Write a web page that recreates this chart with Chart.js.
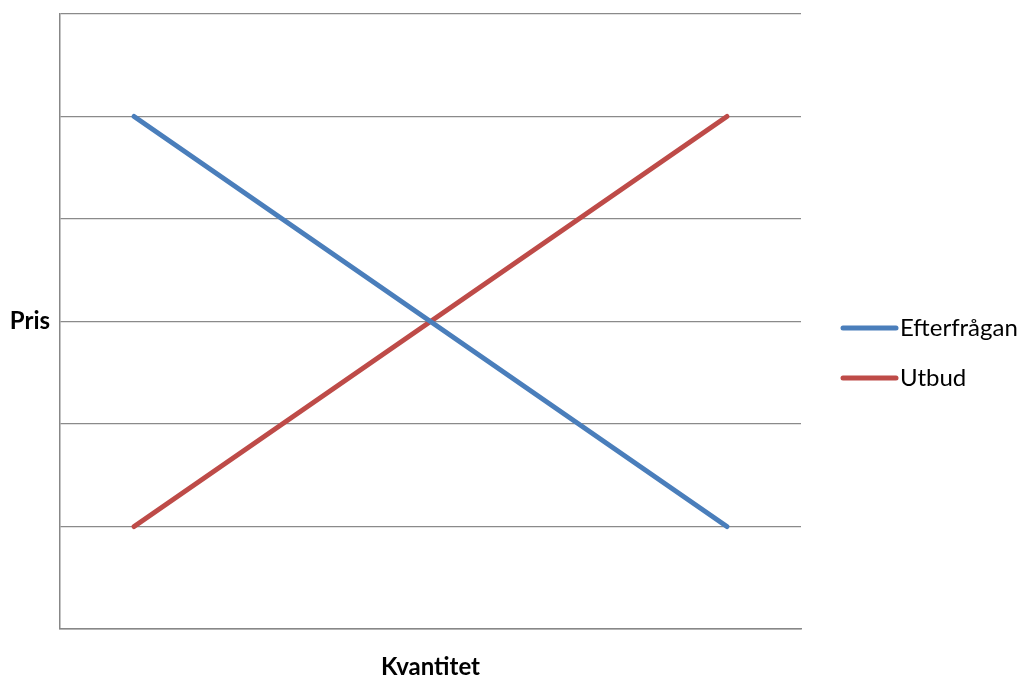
<!DOCTYPE html>
<html lang="sv">
<head>
<meta charset="utf-8">
<title>Efterfrågan och utbud</title>
<script src="https://cdn.jsdelivr.net/npm/chart.js@4/dist/chart.umd.min.js"></script>
<style>
  html, body { margin: 0; padding: 0; background: #ffffff; }
  #wrap { width: 1022px; height: 679px; position: relative; }
</style>
</head>
<body>
<div id="wrap"><canvas id="chart" width="1022" height="679"></canvas></div>
<script>
// Quantity positions on the x axis and the price at each of them
const kvantitet = [1, 9];
const efterfragan = [5, 1];
const utbud = [1, 5];
const seriesLabels = ['Efterfrågan', 'Utbud'];
const axisTitles = { x: 'Kvantitet', y: 'Pris' };

const FONT = 'Lato, "Open Sans", "Liberation Sans", sans-serif';

function points(xs, ys) {
  return xs.map((x, i) => ({ x: x, y: ys[i] }));
}

// Horizontal axis titles and a line-sample legend to the right of the plot
const annotations = {
  id: 'annotations',
  afterDraw(chart) {
    const ctx = chart.ctx;
    const area = chart.chartArea;
    ctx.save();
    ctx.fillStyle = '#000000';
    ctx.font = 'bold 24px ' + FONT;
    ctx.textBaseline = 'middle';
    ctx.textAlign = 'center';
    ctx.fillText(axisTitles.y, 30, (area.top + area.bottom) / 2);
    ctx.fillText(axisTitles.x, (area.left + area.right) / 2, 667);

    ctx.font = '24px ' + FONT;
    ctx.textAlign = 'left';
    const legendX = 843;
    const legendY = 328;
    const rowGap = 50;
    chart.data.datasets.forEach((ds, i) => {
      const y = legendY + i * rowGap;
      ctx.strokeStyle = ds.borderColor;
      ctx.lineWidth = 5;
      ctx.lineCap = 'round';
      ctx.beginPath();
      ctx.moveTo(legendX, y);
      ctx.lineTo(legendX + 53, y);
      ctx.stroke();
      ctx.fillText(ds.label, legendX + 57, y);
    });
    ctx.restore();
  }
};

new Chart(document.getElementById('chart'), {
  type: 'line',
  data: {
    datasets: [
      {
        label: seriesLabels[0],
        data: points(kvantitet, efterfragan),
        borderColor: '#4A7EBB',
        borderWidth: 5,
        pointRadius: 0,
        borderCapStyle: 'round',
        fill: false
      },
      {
        label: seriesLabels[1],
        data: points(kvantitet, utbud),
        borderColor: '#BE4B48',
        borderWidth: 5,
        pointRadius: 0,
        borderCapStyle: 'round',
        fill: false
      }
    ]
  },
  options: {
    responsive: false,
    animation: false,
    devicePixelRatio: 1,
    layout: { padding: { left: 60, top: 14, right: 221, bottom: 50 } },
    plugins: {
      legend: { display: false },
      tooltip: { enabled: false }
    },
    scales: {
      x: {
        type: 'linear',
        min: 0,
        max: 10,
        grid: { display: false, drawTicks: false },
        border: { display: true, color: '#878787', width: 1.5 },
        ticks: { display: false }
      },
      y: {
        type: 'linear',
        min: 0,
        max: 6,
        ticks: { display: false, stepSize: 1 },
        grid: { color: '#8a8a8a', lineWidth: 1.3, drawTicks: false },
        border: { display: true, color: '#878787', width: 1.5 }
      }
    }
  },
  plugins: [annotations]
});
</script>
</body>
</html>
